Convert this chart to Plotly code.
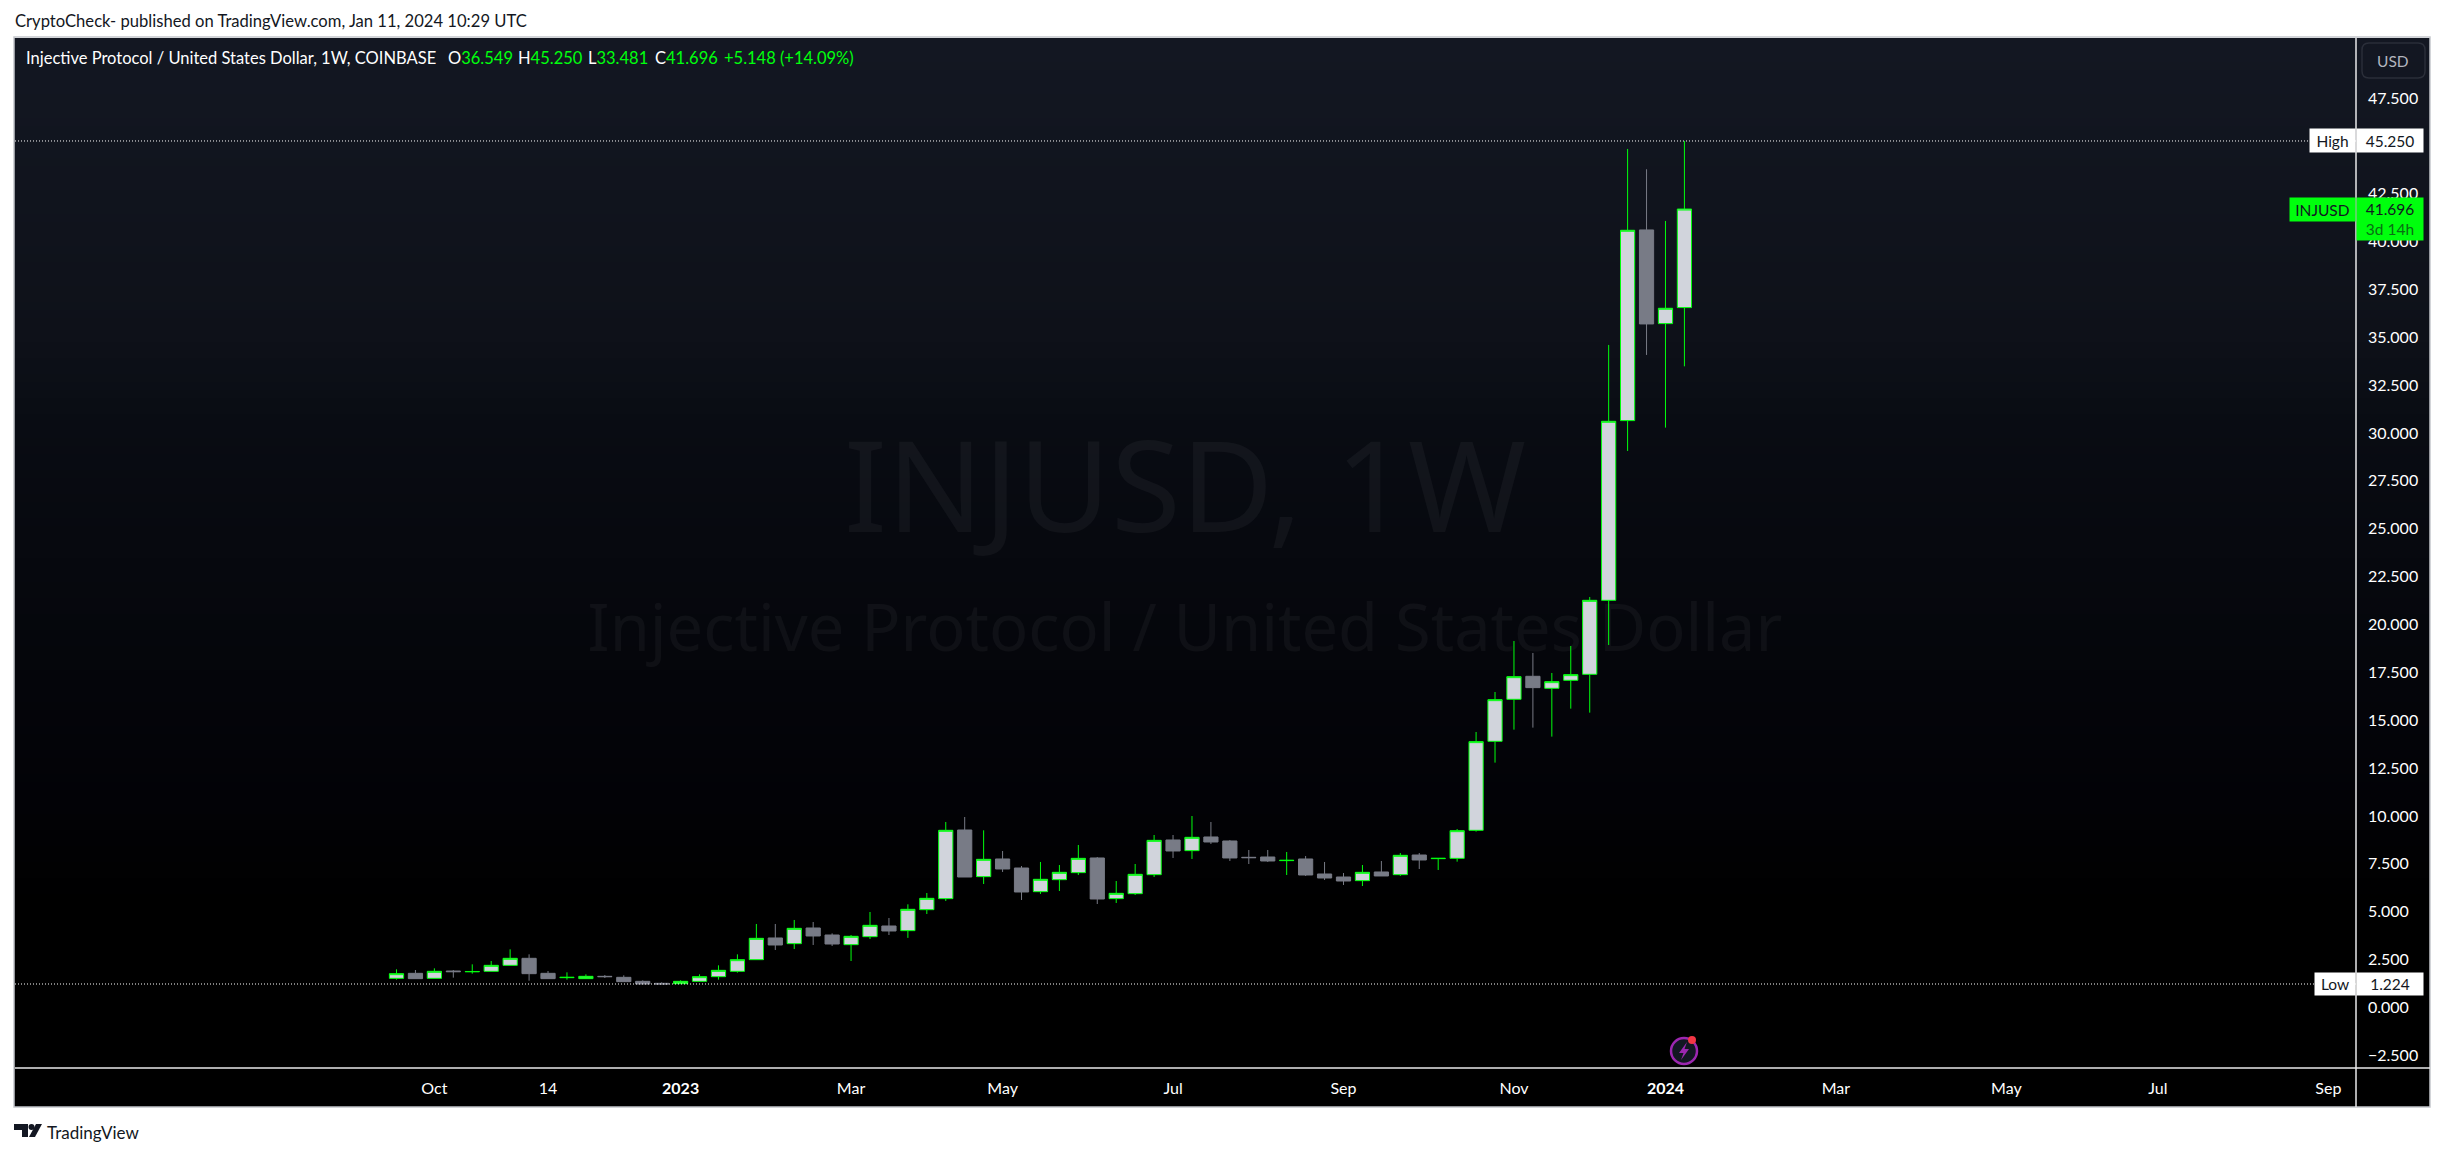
import pandas as pd
import plotly.graph_objects as go

# ---------- data (weekly candles INJUSD) ----------
first_week = "2022-09-19"
opens = [1.520,1.781,1.520,1.903,1.860,1.886,2.199,2.565,1.781,1.555,1.503,1.624,1.572,1.363,1.259,1.241,1.363,1.607,1.886,2.495,
 3.627,3.331,4.149,3.783,3.278,3.696,4.253,4.010,5.106,5.681,9.267,6.830,7.753,7.282,6.046,6.673,7.039,7.805,5.681,5.942,6.934,
 8.745,8.188,8.902,8.693,7.840,7.857,7.666,7.753,6.969,6.812,6.621,7.074,6.934,7.961,7.770,7.787,9.250,13.898,16.092,17.293,
 16.666,17.084,17.397,21.262,30.646,40.604,35.712,36.549]
closes = [1.764,1.503,1.886,1.868,1.877,2.199,2.565,1.764,1.503,1.572,1.624,1.607,1.346,1.224,1.224,1.363,1.607,1.938,2.495,3.609,
 3.261,4.131,3.731,3.313,3.714,4.288,3.992,5.124,5.698,9.250,6.812,7.735,7.230,6.029,6.691,7.056,7.787,5.663,5.959,6.952,8.727,
 8.170,8.884,8.640,7.805,7.822,7.648,7.683,6.917,6.760,6.603,7.056,6.865,7.944,7.700,7.787,9.232,13.881,16.074,17.275,16.701,
 17.014,17.380,21.262,30.611,40.587,35.695,36.513,41.696]
highs = [1.990,1.955,2.042,1.955,2.251,2.425,3.035,2.773,1.903,1.833,1.729,1.694,1.677,1.416,1.311,1.416,1.729,2.199,2.773,4.358,
 4.358,4.567,4.462,3.870,3.783,4.984,4.671,5.385,5.977,9.685,9.946,9.250,8.170,7.387,7.596,7.439,8.484,7.857,6.603,7.491,9.006,
 9.006,9.998,9.685,8.745,8.223,8.223,8.118,7.909,7.596,7.021,7.439,7.648,8.066,8.066,7.787,9.319,14.386,16.475,19.138,18.512,
 17.467,18.877,21.436,34.598,44.834,43.773,41.074,45.250]
lows = [1.450,1.503,1.520,1.555,1.764,1.886,2.199,1.398,1.503,1.450,1.503,1.537,1.346,1.224,1.224,1.224,1.363,1.450,1.816,2.495,
 3.000,3.052,3.261,3.209,2.425,3.574,3.783,3.632,4.880,5.559,6.812,6.447,7.074,5.611,5.925,6.081,6.917,5.402,5.455,5.872,6.812,
 7.805,7.753,8.536,7.648,7.491,7.596,6.917,6.865,6.656,6.395,6.342,6.865,6.865,7.230,7.178,7.613,9.180,12.784,14.507,14.612,
 14.142,15.604,15.395,18.930,29.062,34.076,30.280,33.481]

price_ticks = [47.5,42.5,40,37.5,35,32.5,30,27.5,25,22.5,20,17.5,15,12.5,10,7.5,5,2.5,0,-2.5]
price_labels = ["47.500","42.500","40.000","37.500","35.000","32.500","30.000","27.500","25.000","22.500","20.000",
                "17.500","15.000","12.500","10.000","7.500","5.000","2.500","0.000","\u22122.500"]
date_ticks = ["2022-10-03","2022-11-14","2023-01-02","2023-03-06","2023-05-01","2023-07-03","2023-09-04","2023-11-06",
              "2024-01-01","2024-03-04","2024-05-06","2024-07-01","2024-09-02"]
date_labels = ["Oct","14","<b>2023</b>","Mar","May","Jul","Sep","Nov","<b>2024</b>","Mar","May","Jul","Sep"]
high_price, low_price, last_price = 45.250, 1.224, 41.696

weeks = pd.date_range(first_week, periods=len(opens), freq="7D")

# ---------- geometry helpers ----------
L, R, T, B = 15, 2356, 38, 1068
FRAME_R, FRAME_B = 2430, 1107
FONT = "Lato"
WM_FONT = "Noto Sans"
GREEN = "#00ff0d"
def X(px): return (px - L) / (R - L)
def Y(py): return (B - py) / (B - T)

fig = go.Figure(go.Candlestick(
    x=weeks, open=opens, high=highs, low=lows, close=closes,
    whiskerwidth=0,
    increasing=dict(line=dict(color=GREEN, width=1), fillcolor="#d1d4dc"),
    decreasing=dict(line=dict(color="#787b86", width=1), fillcolor="#787b86"),
    showlegend=False, hoverinfo="skip"))

shapes = []
def rect(x0, y0, x1, y1, fill=None, line=None, lw=0, layer="below", **kw):
    d = dict(type="rect", xref="paper", yref="paper", x0=X(x0), x1=X(x1), y0=Y(y0), y1=Y(y1),
             fillcolor=fill or "rgba(0,0,0,0)", line=dict(color=line or "rgba(0,0,0,0)", width=lw), layer=layer)
    d.update(kw)
    shapes.append(d)

# background gradient of the pane
stops = [(T,(19,23,34)),(330,(14,17,25)),(420,(9,12,19)),(800,(2,2,6)),(900,(0,0,0)),(FRAME_B,(0,0,0))]
y = T
while y < FRAME_B:
    for (a,ca),(b,cb) in zip(stops, stops[1:]):
        if a <= y <= b:
            t = (y-a)/(b-a)
            c = tuple(round(ca[i]+(cb[i]-ca[i])*t) for i in range(3))
            break
    rect(L-1, y, FRAME_R, FRAME_B, fill="rgb(%d,%d,%d)" % c)
    y += 8

# watermark
def watermark(text, cy, size):
    shapes.append(dict(type="rect", xref="paper", yref="paper", x0=X(285), x1=X(2085), y0=Y(cy+60), y1=Y(cy-60),
                       line=dict(width=0), fillcolor="rgba(0,0,0,0)", layer="below",
                       label=dict(text=text, textposition="middle center",
                                  font=dict(family=WM_FONT, size=size, color="rgba(255,255,255,0.045)"))))
watermark("INJUSD, 1W", 491, 127)
watermark("Injective Protocol / United States Dollar", 630, 65)

# frame and separators
rect(14, 37, FRAME_R, FRAME_B, line="#c4c6cc", lw=1.5, layer="above")
for x0, y0, x1, y1 in [(R, T, R, FRAME_B), (L, B, FRAME_R, B)]:
    shapes.append(dict(type="line", xref="paper", yref="paper", x0=X(x0), x1=X(x1), y0=Y(y0), y1=Y(y1),
                       line=dict(color="#e8e8ea", width=1.5), layer="above"))

# high / low dotted lines
for p in (high_price, low_price):
    shapes.append(dict(type="line", xref="paper", yref="y", x0=0, x1=1, y0=p, y1=p,
                       line=dict(color="#ffffff", width=1, dash="1px,2px"), layer="above"))

def poly(pts, fill):
    path = "M " + " L ".join(f"{X(a):.6f},{Y(b):.6f}" for a, b in pts) + " Z"
    shapes.append(dict(type="path", xref="paper", yref="paper", path=path, fillcolor=fill, line=dict(width=0), layer="above"))
def circle(cx, cy, r, fill, line=None, lw=0):
    shapes.append(dict(type="circle", xref="paper", yref="paper", x0=X(cx-r), x1=X(cx+r), y0=Y(cy+r), y1=Y(cy-r),
                       fillcolor=fill, line=dict(color=line or "rgba(0,0,0,0)", width=lw), layer="above"))

# USD box (rounded)
def rrect(x0,y0,x1,y1,r,line):
    p = (f"M {X(x0+r)},{Y(y0)} L {X(x1-r)},{Y(y0)} Q {X(x1)},{Y(y0)} {X(x1)},{Y(y0+r)} L {X(x1)},{Y(y1-r)} "
         f"Q {X(x1)},{Y(y1)} {X(x1-r)},{Y(y1)} L {X(x0+r)},{Y(y1)} Q {X(x0)},{Y(y1)} {X(x0)},{Y(y1-r)} "
         f"L {X(x0)},{Y(y0+r)} Q {X(x0)},{Y(y0)} {X(x0+r)},{Y(y0)} Z")
    shapes.append(dict(type="path", xref="paper", yref="paper", path=p, line=dict(color=line, width=1.5), layer="above"))
rrect(2362, 43, 2425, 78, 7, "#2a2e39")

# lightning icon
circle(1684, 1051, 13, "#131722", "#9c27b0", 2.5)
poly([(1687,1042),(1679,1053),(1683.5,1053),(1681,1060),(1689,1049),(1684.5,1049)], "#9c27b0")
circle(1692, 1040, 4, "#f23645")

# TradingView logo
poly([(14,1124),(28,1124),(28,1137),(22,1137),(22,1130),(14,1130)], "#131722")
circle(31.5, 1127, 3, "#131722")
poly([(36,1124),(42,1124),(35,1137),(29,1137)], "#131722")

ann = []
def text(s, px, py, size=13, color="#131722", xanchor="left", **kw):
    ann.append(dict(x=X(px), y=Y(py), xref="paper", yref="paper", text=s, showarrow=False, xanchor=xanchor, yanchor="middle",
                    font=dict(family=FONT, size=size, color=color), borderpad=0, **kw))
def badge(s, x0, x1, cy, h, bg, fc, yref="paper", size=15.5):
    ann.append(dict(x=X((x0+x1)/2), y=cy if yref == "y" else Y(cy), xref="paper", yref=yref, text=s, showarrow=False,
                    xanchor="center", yanchor="middle", width=x1-x0, height=h, bgcolor=bg, borderpad=0, align="center",
                    font=dict(family=FONT, size=size, color=fc)))

text("CryptoCheck- published on TradingView.com, Jan 11, 2024 10:29 UTC", 14, 21, size=16.6)
text("TradingView", 46, 1132, size=17)
g = lambda s: f"<span style='color:{GREEN}'>{s}</span>"
text("Injective Protocol / United States Dollar, 1W, COINBASE", 25, 58, size=16.5, color="#ffffff")
text("O" + g("36.549"), 447, 58, size=16.5, color="#ffffff")
text("H" + g("45.250"), 517, 58, size=16.5, color="#ffffff")
text("L" + g("33.481"), 587, 58, size=16.5, color="#ffffff")
text("C" + g("41.696"), 654, 58, size=16.5, color="#ffffff")
text(g("+5.148 (+14.09%)"), 723, 58, size=16.5, color="#ffffff")
text("USD", 2393, 61, size=15.5, color="#b2b5be", xanchor="center")

badge("High", 2310, 2355, high_price, 23, "#ffffff", "#131722", yref="y")
badge("45.250", 2357, 2423, high_price, 23, "#ffffff", "#131722", yref="y")
badge("Low", 2315, 2355, low_price, 22, "#ffffff", "#131722", yref="y")
badge("1.224", 2357, 2423, low_price, 22, "#ffffff", "#131722", yref="y")
badge("INJUSD", 2290, 2355, 209.5, 23, GREEN, "#131722")
badge("41.696<br><span style='color:#0a6e14'>3d 14h</span>", 2357, 2423, 219, 42, GREEN, "#131722")

fig.update_layout(
    width=2444, height=1155, margin=dict(l=L, r=2444-R, t=T, b=1155-B, autoexpand=False),
    paper_bgcolor="#ffffff", plot_bgcolor="rgba(0,0,0,0)", boxgap=0.25, boxgroupgap=0,
    showlegend=False, shapes=shapes, annotations=ann,
    xaxis=dict(type="date", range=["2022-05-01 00:00", "2024-09-12 05:00"], rangeslider=dict(visible=False),
               showgrid=False, zeroline=False, showline=False, tickmode="array", tickvals=date_ticks, ticktext=date_labels,
               ticks="", ticklabelstandoff=9, tickangle=0, tickfont=dict(family=FONT, size=16, color="#ffffff")),
    yaxis=dict(side="right", range=[-3.163, 50.628], showgrid=False, zeroline=False, showline=False,
               tickmode="array", tickvals=price_ticks, ticktext=price_labels, ticks="", ticklabelstandoff=11,
               tickfont=dict(family=FONT, size=16, color="#ffffff")),
)
fig.write_html("out.html", config=dict(displayModeBar=False),
               post_script="document.body.style.margin='0';")
